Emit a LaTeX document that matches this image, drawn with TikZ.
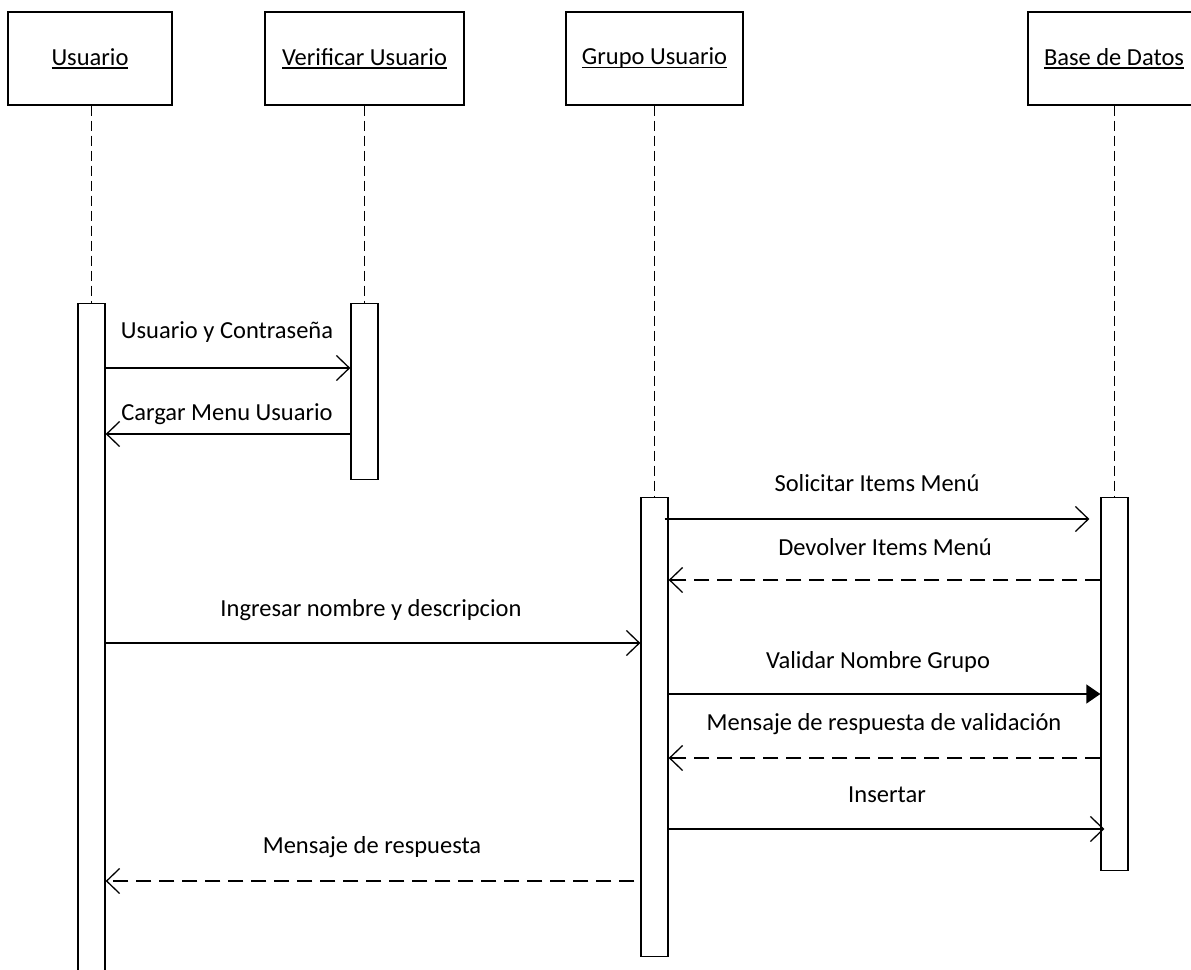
\documentclass[tikz,border=0pt]{standalone}
\usepackage{fontspec}
\setmainfont{Carlito}
\usetikzlibrary{arrows.meta}
% underlined participant name with the rule at a fixed depth below the baseline
\newsavebox\lblbox
\newcommand\headlabel[1]{\sbox\lblbox{#1}\rlap{\rule[-3.4pt]{\wd\lblbox}{1.3pt}}\usebox\lblbox}
\begin{document}
\begin{tikzpicture}[x=1pt,y=-1pt,
  every node/.style={font=\fontsize{24.5}{29}\selectfont},
  head/.style={draw, line width=1.3pt, minimum width=#1, minimum height=93pt, inner sep=0pt},
  bar/.style={draw, fill=white, line width=1.3pt, minimum width=27pt, inner sep=0pt, anchor=north},
  life/.style={line width=1.1pt, dash pattern=on 10pt off 5pt},
  call/.style={line width=1.3pt, -{Straight Barb[length=13pt,width=25pt,line width=1.3pt]}},
  reply/.style={call, dash pattern=on 15pt off 8pt},
  sync/.style={line width=1.3pt, -{Triangle[length=14pt,width=19pt]}},
  lbl/.style={anchor=base, inner sep=0pt}]
\useasboundingbox (0,0) rectangle (1191,969);
\clip (0,0) rectangle (1191,969);

% participants
\node[head=164pt] (u) at (90,58.5)   {\headlabel{Usuario}};
\node[head=199pt] (v) at (364.5,58.5) {\headlabel{Verificar Usuario}};
\node[head=177pt] (g) at (654.5,58.5) {\headlabel{Grupo Usuario}};
\node[head=172pt] (b) at (1114,58.5)  {\headlabel{Base de Datos}};

% activation bars (placed first so lifelines can reach them)
\path node[bar, minimum height=690pt] (ub) at (91.5,303) {}
      node[bar, minimum height=176pt] (vb) at (364.5,303) {}
      node[bar, minimum height=459pt] (gb) at (654.5,497) {}
      node[bar, minimum height=373pt] (bb) at (1114.5,497) {};

% lifelines
\draw[life] (ub.north |- u.south) -- (ub.north);
\draw[life] (vb.north |- v.south) -- (vb.north);
\draw[life] (gb.north |- g.south) -- (gb.north);
\draw[life] (bb.north |- b.south) -- (bb.north);

% redraw bars on top of the lifelines
\path node[bar, minimum height=690pt] at (91.5,303) {}
      node[bar, minimum height=176pt] at (364.5,303) {}
      node[bar, minimum height=459pt] at (654.5,497) {}
      node[bar, minimum height=373pt] at (1114.5,497) {};

% message rows
\coordinate (m1) at (0,368);
\coordinate (m2) at (0,434);
\coordinate (m3) at (0,519);
\coordinate (m4) at (0,580);
\coordinate (m5) at (0,643);
\coordinate (m6) at (0,694);
\coordinate (m7) at (0,758);
\coordinate (m8) at (0,829);
\coordinate (m9) at (0,881);

\draw[call]  (ub.east |- m1) -- (vb.west |- m1);
\draw[call]  (vb.west |- m2) -- (ub.east |- m2);
\draw[call]  ([xshift=-4pt]gb.east |- m3) -- ([xshift=-11pt]bb.west |- m3);
\draw[reply] (bb.west |- m4) -- (gb.east |- m4);
\draw[call]  (ub.east |- m5) -- (gb.west |- m5);
\draw[sync]  (gb.east |- m6) -- (bb.west |- m6);
\draw[reply] (bb.west |- m7) -- (gb.east |- m7);
\draw[call]  (gb.east |- m8) -- ([xshift=4pt]bb.west |- m8);
\draw[reply] ([xshift=-6pt]gb.west |- m9) -- (ub.east |- m9);

% message labels
\node[lbl] (t1) at (227,338) {Usuario y Contraseña};
\node[lbl] (t2) at (227,420) {Cargar Menu Usuario};
\node[lbl] (t3) at (877,491) {Solicitar Items Menú};
\node[lbl] (t4) at (885,555) {Devolver Items Menú};
\node[lbl] (t5) at (371,616) {Ingresar nombre y descripcion};
\node[lbl] (t6) at (878,668) {Validar Nombre Grupo};
\node[lbl] (t7) at (884,730) {Mensaje de respuesta de validación};
\node[lbl] (t8) at (887,802) {Insertar};
\node[lbl] (t9) at (372,853) {Mensaje de respuesta};
\end{tikzpicture}
\end{document}
